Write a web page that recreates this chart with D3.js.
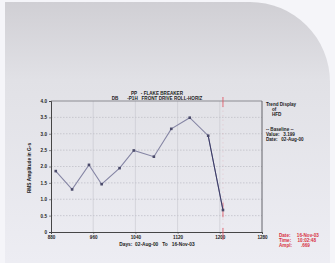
<!DOCTYPE html>
<html>
<head>
<meta charset="utf-8">
<script src="https://cdn.jsdelivr.net/npm/d3@7.9.0/dist/d3.min.js"></script>
<style>
  body { margin: 0; background: #f5f5f9; }
  svg { display: block; font-family: "Liberation Sans", Arial, sans-serif; font-weight: bold; }
</style>
</head>
<body>
<svg id="chart" width="335" height="263"></svg>
<script>
// trend data (days vs RMS amplitude)
const days = [889, 920, 952, 976, 1010, 1037, 1075, 1108, 1143, 1178, 1206];
const amps = [1.86, 1.30, 2.05, 1.46, 1.95, 2.49, 2.30, 3.15, 3.49, 2.94, 0.67];
const xTicks = [880, 960, 1040, 1120, 1200, 1280];
const yTicks = [0, 0.5, 1.0, 1.5, 2.0, 2.5, 3.0, 3.5, 4.0];
const currentDay = 1206;

const titleLines = ["PP   - FLAKE BREAKER", "DB       -P1H   FRONT DRIVE ROLL-HORIZ"];
const infoLines = ["Trend Display", "of", "HFD", "", "", "-- Baseline --", "Value:   3.199", "Date:   02-Aug-00"];
const redLines = ["Date:     16-Nov-03", "Time:     10:02:48", "Ampl:       .669"];

const svg = d3.select("#chart");

// background panel
const defs = svg.append("defs");
const grad = defs.append("linearGradient").attr("id", "bg").attr("x1", 0).attr("y1", 0).attr("x2", 0).attr("y2", 1);
grad.append("stop").attr("offset", "0%").attr("stop-color", "#d0cfd4");
grad.append("stop").attr("offset", "30%").attr("stop-color", "#e1e1e6");
grad.append("stop").attr("offset", "100%").attr("stop-color", "#ededf3");

svg.append("path")
  .attr("d", "M5,2 H250 A80,80 0 0 1 330,82 V263 H5 Z")
  .attr("fill", "url(#bg)");

const x = d3.scaleLinear().domain([880, 1280]).range([51, 262]);
const y = d3.scaleLinear().domain([0, 4]).range([232, 101]);

// grid
svg.append("g").selectAll("line").data(yTicks.slice(1, -1)).join("line")
  .attr("x1", x(880)).attr("x2", x(1280))
  .attr("y1", d => y(d)).attr("y2", d => y(d))
  .attr("stroke", "#b4b4bc").attr("stroke-width", 0.6).attr("stroke-dasharray", "1.5,1.5");

svg.append("g").selectAll("line").data(xTicks.slice(1, -1)).join("line")
  .attr("x1", d => x(d)).attr("x2", d => x(d))
  .attr("y1", y(0)).attr("y2", y(4))
  .attr("stroke", "#c6c6cc").attr("stroke-width", 0.6);

// frame top and right
svg.append("line").attr("x1", x(880)).attr("x2", x(1280)).attr("y1", y(4)).attr("y2", y(4))
  .attr("stroke", "#8c8c92").attr("stroke-width", 1.2);
svg.append("line").attr("x1", x(1280)).attr("x2", x(1280)).attr("y1", y(4)).attr("y2", y(0))
  .attr("stroke", "#55555c").attr("stroke-width", 0.9);

// axes
const yAxis = d3.axisLeft(y).tickValues(yTicks).tickSize(2).tickPadding(2)
  .tickFormat(d => d === 0 ? "0" : d3.format(".1f")(d));
const gy = svg.append("g").attr("transform", `translate(${x(880)},0)`).call(yAxis);
const xAxis = d3.axisBottom(x).tickValues(xTicks).tickSize(2).tickPadding(2).tickFormat(d3.format("d"));
const gx = svg.append("g").attr("transform", `translate(0,${y(0)})`).call(xAxis);
[gx, gy].forEach(g => {
  g.select(".domain").attr("stroke", "#333").attr("stroke-width", 0.9);
  g.selectAll(".tick line").attr("stroke", "#444").attr("stroke-width", 0.6);
  g.selectAll("text").attr("font-size", 4.6).attr("fill", "#222")
    .attr("font-family", "Liberation Sans, Arial, sans-serif").attr("font-weight", "bold");
});

// current date marker
svg.append("line")
  .attr("x1", x(currentDay)).attr("x2", x(currentDay))
  .attr("y1", y(4) - 4).attr("y2", y(0) + 8)
  .attr("stroke", "#e07080").attr("stroke-width", 0.6).attr("stroke-dasharray", "1.5,3").attr("opacity", 0.3);
svg.append("g").selectAll("line").data([[y(4) - 4, y(4) + 6], [y(0.9), y(0.45)], [y(0) - 4, y(0) + 8]]).join("line")
  .attr("x1", x(currentDay)).attr("x2", x(currentDay))
  .attr("y1", d => d[0]).attr("y2", d => d[1])
  .attr("stroke", "#e05060").attr("stroke-width", 0.8);

// trend line
const pts = days.map((d, i) => [d, amps[i]]);
svg.append("path").datum(pts)
  .attr("fill", "none").attr("stroke", "#8585a4").attr("stroke-width", 1.1)
  .attr("d", d3.line().x(d => x(d[0])).y(d => y(d[1])));
svg.append("path").datum(pts.slice(-2))
  .attr("fill", "none").attr("stroke", "#3a3a66").attr("stroke-width", 1)
  .attr("d", d3.line().x(d => x(d[0])).y(d => y(d[1])));
svg.append("g").selectAll("rect").data(pts).join("rect")
  .attr("x", d => x(d[0]) - 1.3).attr("y", d => y(d[1]) - 1.3)
  .attr("width", 2.6).attr("height", 2.6).attr("fill", "#4a4a6a");

// titles
svg.append("g").selectAll("text").data(titleLines).join("text")
  .attr("x", 157).attr("y", (d, i) => 94.5 + i * 5.6)
  .attr("text-anchor", "middle").attr("font-size", 4.6).attr("fill", "#222")
  .style("white-space", "pre")
  .text(d => d);

// axis labels
svg.append("text").attr("transform", "translate(31,168) rotate(-90)")
  .attr("text-anchor", "middle").attr("font-size", 4.8).attr("fill", "#222")
  .text("RMS Amplitude in G-s");
svg.append("text").attr("x", 157).attr("y", 246)
  .attr("text-anchor", "middle").attr("font-size", 4.8).attr("fill", "#222")
  .style("white-space", "pre")
  .text("Days:  02-Aug-00   To   16-Nov-03");

// right info panel
svg.append("g").selectAll("text").data(infoLines).join("text")
  .attr("x", (d, i) => (i === 1 || i === 2) ? 272 : 266)
  .attr("y", (d, i) => 105.5 + i * 5)
  .attr("font-size", 4.6).attr("fill", "#222")
  .style("white-space", "pre")
  .text(d => d);

svg.append("g").selectAll("text").data(redLines).join("text")
  .attr("x", 279).attr("y", (d, i) => 236.5 + i * 5)
  .attr("font-size", 4.6).attr("fill", "#d83040")
  .style("white-space", "pre")
  .text(d => d);
</script>
</body>
</html>
